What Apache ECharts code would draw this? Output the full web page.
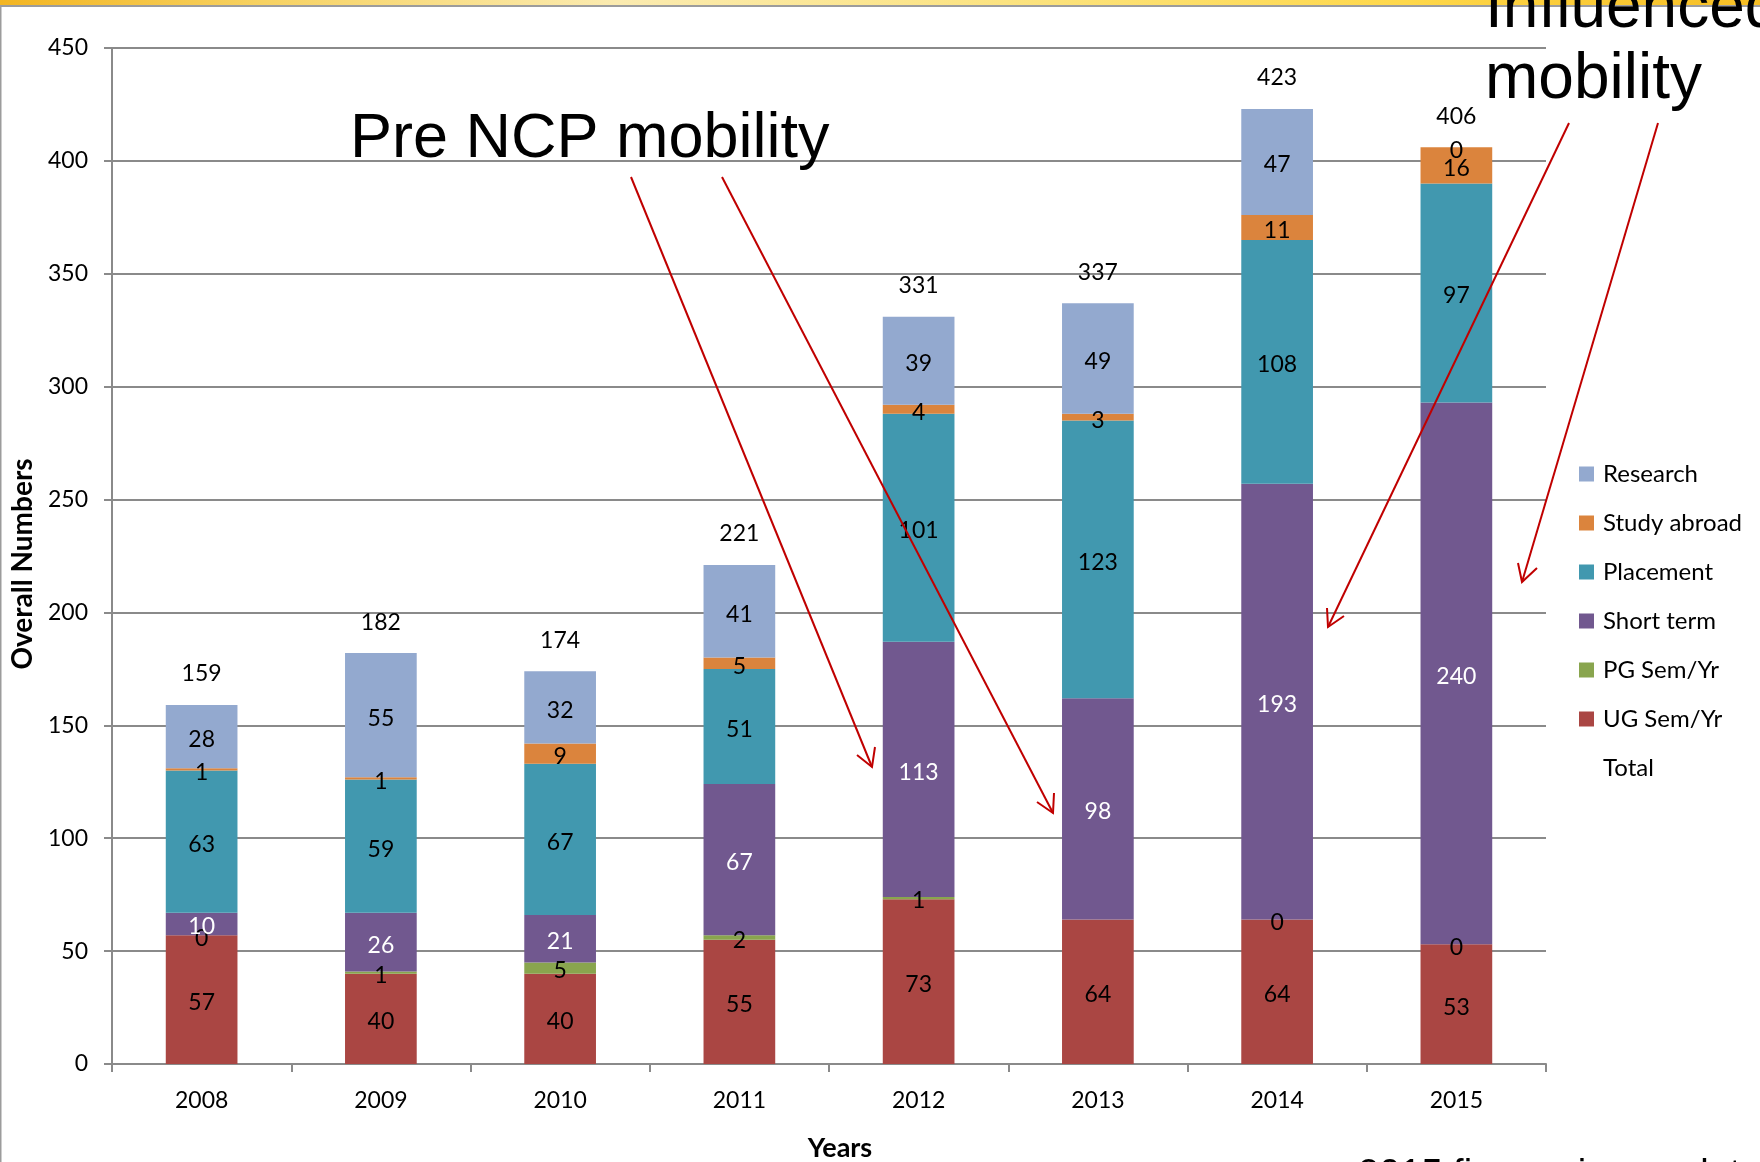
<!DOCTYPE html>
<html>
<head>
<meta charset="utf-8">
<script src="https://cdn.jsdelivr.net/npm/echarts@6/dist/echarts.min.js"></script>
<style>
html,body{margin:0;padding:0;background:#fff;}
#chart{width:1760px;height:1162px;}
</style>
</head>
<body>
<div id="chart"></div>
<script>
const categories = ['2008','2009','2010','2011','2012','2013','2014','2015'];
const ugSemYr = [57, 40, 40, 55, 73, 64, 64, 53];
const pgSemYr = [0, 1, 5, 2, 1, null, 0, 0];
const shortTerm = [10, 26, 21, 67, 113, 98, 193, 240];
const placement = [63, 59, 67, 51, 101, 123, 108, 97];
const studyAbroad = [1, 1, 9, 5, 4, 3, 11, 16];
const research = [28, 55, 32, 41, 39, 49, 47, 0];
const totals = [159, 182, 174, 221, 331, 337, 423, 406];
const yTicks = [0, 50, 100, 150, 200, 250, 300, 350, 400, 450];

const FONT = 'Lato';
const chart = echarts.init(document.getElementById('chart'), null, {renderer: 'canvas'});

function barSeries(name, data, color, labelColor) {
  return {
    name: name,
    type: 'bar',
    stack: 'all',
    data: data,
    barWidth: '40%',
    itemStyle: {color: color},
    label: {
      show: true,
      position: 'inside',
      offset: [0, 3],
      color: labelColor,
      fontFamily: FONT,
      fontSize: 23,
      formatter: p => (p.value === null || p.value === undefined) ? '' : String(p.value)
    },
    emphasis: {disabled: true}
  };
}

function arrow(x1, y1, x2, y2, w1, w2) {
  return [
    {type: 'polyline', shape: {points: [[x1, y1], [x2, y2]]}, style: {stroke: '#C00000', lineWidth: 2}, z: 100},
    {type: 'polyline', shape: {points: [w1, [x2, y2], w2]}, style: {stroke: '#C00000', lineWidth: 2, fill: null}, z: 100}
  ];
}

const option = {
  backgroundColor: '#ffffff',
  animation: false,
  grid: {left: 112, right: 214, top: 48, bottom: 98, containLabel: false, outerBoundsMode: 'none'},
  legend: {
    orient: 'vertical',
    left: 1574,
    top: 457,
    itemWidth: 15,
    itemHeight: 15,
    itemGap: 25,
    selectedMode: false,
    textStyle: {fontFamily: FONT, fontSize: 24, color: '#000', padding: [0, 0, 0, 4]},
    data: [
      {name: 'Research', icon: 'rect'},
      {name: 'Study abroad', icon: 'rect'},
      {name: 'Placement', icon: 'rect'},
      {name: 'Short term', icon: 'rect'},
      {name: 'PG Sem/Yr', icon: 'rect'},
      {name: 'UG Sem/Yr', icon: 'rect'},
      {name: 'Total', icon: 'rect', itemStyle: {color: 'rgba(0,0,0,0)', opacity: 0}}
    ]
  },
  xAxis: {
    type: 'category',
    data: categories,
    name: 'Years',
    nameLocation: 'middle',
    nameGap: 71,
    nameTextStyle: {fontFamily: FONT, fontWeight: 'bold', fontSize: 27, color: '#000', padding: [0, 0, 0, 22]},
    axisLine: {lineStyle: {color: '#8a8a8a', width: 2}},
    axisTick: {show: true, length: 8, lineStyle: {color: '#8a8a8a', width: 2}},
    axisLabel: {fontFamily: FONT, fontSize: 23, color: '#000', margin: 25}
  },
  yAxis: {
    type: 'value',
    min: 0,
    max: 450,
    interval: 50,
    name: 'Overall Numbers',
    nameLocation: 'middle',
    nameGap: 51,
    nameTextStyle: {fontFamily: FONT, fontWeight: 'bold', fontSize: 28, color: '#000', padding: [0, 16, 0, 0]},
    axisLine: {show: true, lineStyle: {color: '#8a8a8a', width: 2}},
    axisTick: {show: true, length: 8, lineStyle: {color: '#8a8a8a', width: 2}},
    splitLine: {show: true, lineStyle: {color: '#8a8a8a', width: 2}},
    axisLabel: {
      fontFamily: FONT, fontSize: 23, color: '#000', margin: 24,
      formatter: v => yTicks.indexOf(v) >= 0 ? String(v) : ''
    }
  },
  series: [
    barSeries('UG Sem/Yr', ugSemYr, '#AA4643', '#000'),
    barSeries('PG Sem/Yr', pgSemYr, '#89A54E', '#000'),
    barSeries('Short term', shortTerm, '#71588F', '#fff'),
    barSeries('Placement', placement, '#4198AF', '#000'),
    barSeries('Study abroad', studyAbroad, '#DB843D', '#000'),
    barSeries('Research', research, '#93A9CF', '#000'),
    {
      name: 'Total',
      type: 'line',
      data: totals,
      symbol: 'circle',
      symbolSize: 1,
      showSymbol: true,
      lineStyle: {opacity: 0, width: 0},
      itemStyle: {color: 'rgba(0,0,0,0)'},
      label: {show: true, position: 'top', distance: 19, color: '#000', fontFamily: FONT, fontSize: 23},
      emphasis: {disabled: true},
      z: 5
    }
  ],
  graphic: [
    {
      type: 'rect', shape: {x: 0, y: 0, width: 1760, height: 5}, z: 50,
      style: {
        fill: new echarts.graphic.LinearGradient(0, 0, 1, 0, [
          {offset: 0, color: '#F3B521'},
          {offset: 0.15, color: '#F7D262'},
          {offset: 0.35, color: '#FBEBB0'},
          {offset: 0.6, color: '#FCE27A'},
          {offset: 0.8, color: '#FFD84A'},
          {offset: 1, color: '#F6BE24'}
        ])
      }
    },
    {type: 'rect', shape: {x: 0, y: 5, width: 1760, height: 2}, style: {fill: '#9c9c9c'}, z: 50},
    {type: 'rect', shape: {x: 0, y: 6, width: 1.5, height: 1156}, style: {fill: '#9c9c9c'}, z: 50},
    {
      type: 'text', x: 350, y: 140, z: 60,
      style: {text: 'Pre NCP mobility', font: '63px "Liberation Sans"', fill: '#000', verticalAlign: 'middle'}
    },
    {
      type: 'text', x: 1485, y: 9, z: 60,
      style: {text: 'Influenced', font: '64px "Liberation Sans"', fill: '#000', verticalAlign: 'middle'}
    },
    {
      type: 'text', x: 1485, y: 80, z: 60,
      style: {text: 'mobility', font: '64px "Liberation Sans"', fill: '#000', verticalAlign: 'middle'}
    },
    {
      type: 'text', x: 1358, y: 1176, z: 60,
      style: {text: '2015 figures incomplete', font: '38px "Liberation Sans"', fill: '#000', verticalAlign: 'middle'}
    },
    ...arrow(631, 177, 872, 767, [857, 755], [875, 747]),
    ...arrow(722, 177, 1053, 813, [1037, 802], [1054, 793]),
    ...arrow(1569, 123, 1328, 627, [1327, 608], [1344, 616]),
    ...arrow(1658, 123, 1522, 582, [1518, 563], [1537, 568])
  ]
};
chart.setOption(option);
</script>
</body>
</html>
